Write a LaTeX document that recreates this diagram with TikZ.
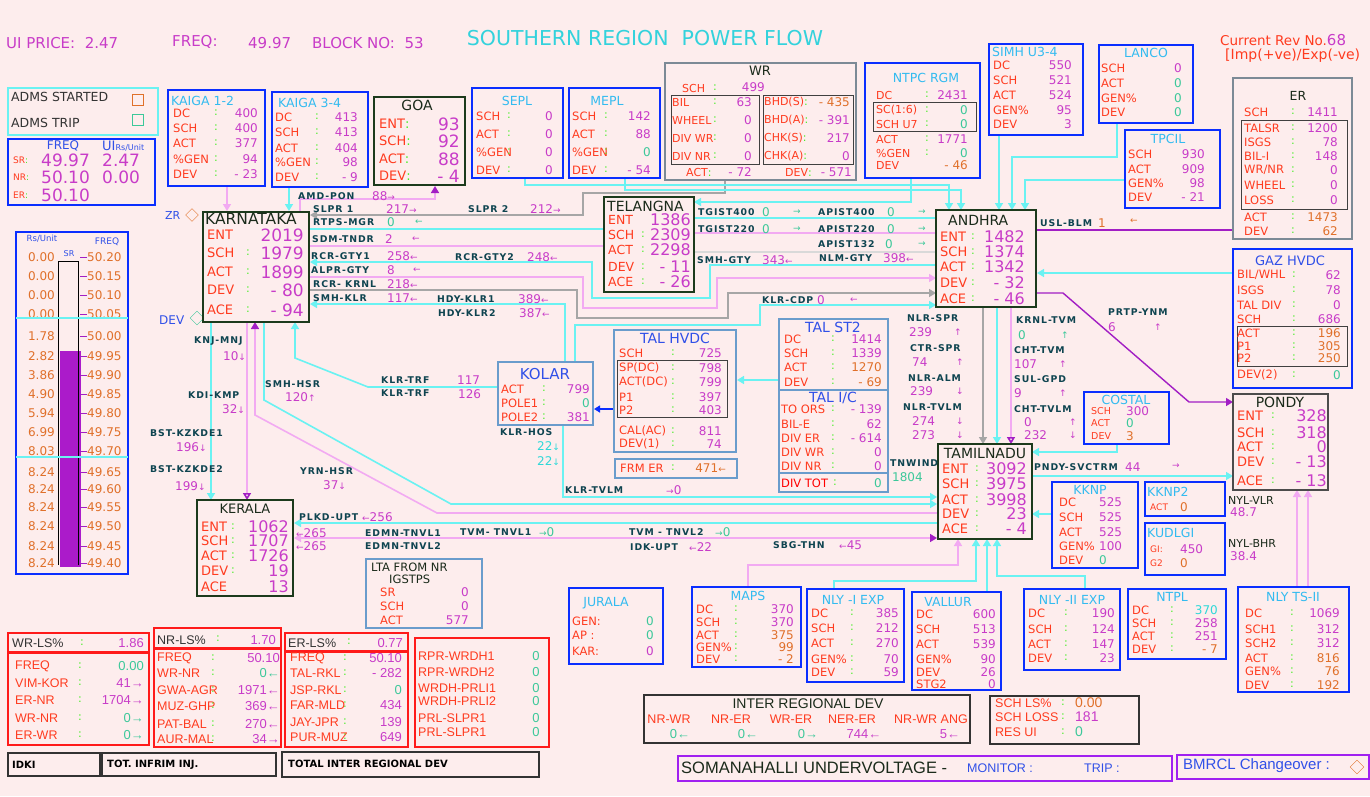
\documentclass[tikz,border=0pt]{standalone}
\usepackage{fontspec}
\setmainfont{DejaVu Sans}
\newfontfamily\narf{Liberation Sans}
\newfontfamily\flowf[LetterSpace=10]{DejaVu Sans}
\usetikzlibrary{arrows.meta,fit,shapes.geometric}
\definecolor{bgpink}{HTML}{FDEDED}
\definecolor{lblred}{HTML}{FF3B1F}
\definecolor{valmag}{HTML}{C83CC8}
\definecolor{valteal}{HTML}{3CC89A}
\definecolor{valorg}{HTML}{E0702A}
\definecolor{colgrn}{HTML}{44EE22}
\definecolor{ttlcyan}{HTML}{33BBF0}
\definecolor{boxblue}{HTML}{0A2EFF}
\definecolor{boxgray}{HTML}{7C8A96}
\definecolor{boxdark}{HTML}{1C3A1C}
\definecolor{steel}{HTML}{6A9CCC}
\definecolor{lncyan}{HTML}{6AF2F2}
\definecolor{lnpink}{HTML}{F2AAF2}
\definecolor{lngray}{HTML}{A6A6A6}
\definecolor{lnpurp}{HTML}{A21EC4}
\definecolor{flowtxt}{HTML}{0E4450}
\definecolor{hdcyan}{HTML}{33D2DC}
\definecolor{titleblue}{HTML}{3050E8}
\definecolor{redbox}{HTML}{FF1A1A}
\definecolor{darktxt}{HTML}{1A2A1A}
\definecolor{cyantxt}{HTML}{2ED8D8}
\definecolor{violetbox}{HTML}{A020F0}
\newcommand\fsz[1]{\fontsize{#1}{#1}\selectfont}
\newcommand\cgz{\color{valteal}}
\newcommand\cog{\color{valorg}}
\newcommand\cmg{\color{valmag}}
\begin{document}
\begin{tikzpicture}[x=1pt, y=-1pt,
  lbl/.style={anchor=west, inner sep=0pt, text=lblred, font=\fsz{11.5}},
  val/.style={anchor=east, inner sep=0pt, text=valmag, font=\fsz{12}},
  cln/.style={inner sep=0pt, text=colgrn, font=\fsz{11}},
  ttl/.style={inner sep=0pt, text=ttlcyan, font=\fsz{12.5}},
  bbox/.style={draw=boxblue, line width=1.8pt, inner sep=0pt},
  gbox/.style={draw=boxgray, line width=1.8pt, inner sep=0pt},
  sbox/.style={draw=steel, line width=1.8pt, inner sep=0pt},
  kbox/.style={draw=black!75, line width=1pt, inner sep=0pt},
  stbox/.style={draw=boxdark, line width=1.8pt, inner sep=0pt},
  rbox/.style={draw=redbox, line width=1.6pt, inner sep=0pt},
  stname/.style={inner sep=0pt, text=darktxt, font=\fsz{14}},
  stlbl/.style={lbl, font=\fsz{13}},
  stval/.style={val, font=\fsz{16}},
  flow/.style={anchor=west, inner sep=0pt, text=flowtxt, font=\flowf\bfseries\fsz{9.3}},
  fval/.style={anchor=west, inner sep=0pt, text=valmag, font=\fsz{12}},
  nlbl/.style={anchor=west, inner sep=0pt, text=lblred, font=\narf\fsz{12.5}},
  nval/.style={anchor=east, inner sep=0pt, text=valmag, font=\narf\fsz{13}},
  barnum/.style={inner sep=0pt, text=valorg, font=\fsz{12}},
  cy/.style={draw=lncyan, line width=1.6pt},
  pk/.style={draw=lnpink, line width=1.6pt},
  gy/.style={draw=lngray, line width=1.6pt},
  pp/.style={draw=lnpurp, line width=1.4pt},
  arr/.style={-{Triangle[length=7pt,width=8pt]}},
  parr/.style={-{Triangle[length=7pt,width=8pt,color=lnpurp]}},
  oarr/.style={-{Triangle[open,length=7pt,width=8pt,color=lnpurp]}}]
\fill[bgpink] (0,0) rectangle (1370,796);
\useasboundingbox (0,0) rectangle (1370,796);

% header line
\node[anchor=west, inner sep=0pt, text=valmag, font=\fsz{15}] (uiprice) at (6,43) {UI PRICE:\ \ 2.47};
\node[anchor=west, inner sep=0pt, text=valmag, font=\fsz{15}] (freqtop) at (172,42) {FREQ:};
\node[anchor=west, inner sep=0pt, text=valmag, font=\fsz{15}] (freqval) at (248,43) {49.97};
\node[anchor=west, inner sep=0pt, text=valmag, font=\fsz{15}] (blockno) at (312,43) {BLOCK NO:\ \ 53};
\node[inner sep=0pt, text=hdcyan, font=\fsz{20.5}] (title) at (645,38) {SOUTHERN REGION\ \ POWER FLOW};
\node[anchor=west, inner sep=0pt, text=lblred, font=\fsz{13.5}] (revno) at (1220,40) {Current Rev No.{\cmg\fsz{15}68}};
\node[anchor=west, inner sep=0pt, text=lblred, font=\fsz{14}] (impexp) at (1225,56) {[Imp(+ve)/Exp(-ve)};

% connectors
\draw[pk, arr] (227,186) -- (227,211);
\draw[cy, arr] (289,187) -- (289,211);
\draw[pk, parr] (300,211) -- (300,199) -- (435,199) -- (435,186);
\draw[gy, arr] (725,180) -- (725,193) -- (583,193) -- (583,215) -- (310,215);
\draw[cy] (310,229) -- (604,229);
\draw[pk] (310,246) -- (604,246);
\draw[cy, arr] (936,265) -- (710,265) -- (710,298) -- (592,298) -- (592,262) -- (310,262);
\draw[pk, arr] (310,277) -- (583,277) -- (583,308) -- (717,308) -- (717,278) -- (936,278);
\draw[gy, arr] (310,290) -- (577,290) -- (577,318) -- (728,318) -- (728,293) -- (936,293);
\draw[cy, arr] (565,362) -- (565,304) -- (310,304);
\draw[cy, arr] (575,362) -- (575,325) -- (760,325) -- (760,305) -- (936,305);
\draw[cy, arr] (911,178) -- (911,202) -- (694,202);
\draw[cy, arr] (525,178) -- (525,185) -- (949,185) -- (949,210);
\draw[cy, arr] (625,178) -- (625,190) -- (961,190) -- (961,210);
\draw[cy, arr] (999,135) -- (999,210);
\draw[cy, arr] (1117,123) -- (1117,157) -- (1012,157) -- (1012,210);
\draw[cy, arr] (1125,180) -- (1025,180) -- (1025,210);
\draw[pp] (1233,230) -- (1036,230);
\draw[cy] (694,218) -- (936,218);
\draw[pk] (694,233) -- (936,233);
\draw[draw=black!15, line width=1.2pt] (694,252) -- (936,252);
\draw[cy, arr] (1233,273) -- (1037,273);
\draw[pp, parr] (1036,293) -- (1063,293) -- (1189,402) -- (1233,402);
\draw[gy, arr] (983,307) -- (983,444);
\draw[cy, arr] (997,307) -- (997,444);
\draw[pk, oarr] (1011,307) -- (1011,444);
\draw[cy, arr] (1117,444) -- (1117,452) -- (1032,452);
\draw[cy, arr] (1032,476) -- (1233,476);
\draw[cy, arr] (1052,514) -- (1032,514);
\draw[cy, arr] (779,380) -- (737,380);
\draw[draw=boxblue, line width=1.6pt, -{Triangle[length=6pt,width=7pt]}] (614,409) -- (594,409);
\draw[cy, arr] (498,387) -- (368,387) -- (295,358) -- (295,322);
\draw[cy, arr] (563,425) -- (563,497) -- (937,497);
\draw[cy, arr] (264,322) -- (264,400) -- (451,504) -- (937,504);
\draw[pk, parr] (937,513) -- (437,513) -- (255,415) -- (255,322);
\draw[cy, arr] (211,322) -- (211,500);
\draw[pk, oarr] (247,322) -- (247,500);
\draw[cy, arr] (937,523) -- (294,523);
\draw[pk, {Triangle[length=7pt,width=8pt]}-{Triangle[length=7pt,width=8pt,color=lnpurp]}] (294,538) -- (937,538);
\draw[pk, arr] (748,588) -- (748,565) -- (958,565) -- (958,539);
\draw[cy, arr] (834,589) -- (834,581) -- (976,581) -- (976,539);
\draw[cy, arr] (987,592) -- (987,539);
\draw[cy, arr] (1085,589) -- (1085,576) -- (997,576) -- (997,539);
\draw[pk, arr] (1297,588) -- (1297,490);
\draw[pk, arr] (1308,588) -- (1308,490);

% ADMS and frequency boxes
\node[draw=lncyan, line width=1.8pt, inner sep=0pt, fit={(8,88) (158,135)}] (adms) {};
\node[anchor=west, inner sep=0pt, text=black!80, font=\fsz{12.5}] (admsst) at (11,97) {ADMS STARTED};
\node[draw=valorg, line width=1.1pt, minimum size=11pt, inner sep=0pt] (admssq) at (138,100) {};
\node[anchor=west, inner sep=0pt, text=black!80, font=\fsz{12.5}] (admstr) at (11,123) {ADMS TRIP};
\node[draw=valteal, line width=1.1pt, minimum size=11pt, inner sep=0pt] (admstq) at (138,120) {};
\node[bbox, fit={(8,139) (155,205)}] (freqbox) {};
\node[inner sep=0pt, text=titleblue, font=\fsz{12}] (fb-fq) at (63,146) {FREQ};
\node[anchor=west, inner sep=0pt, text=titleblue, font=\fsz{13}] (fb-ui) at (102,146) {UI{\fsz{8}Rs/Unit}};
\foreach \r/\a/\b/\y [count=\i] in {SR/49.97/2.47/160, NR/50.10/0.00/177, ER/50.10//195}
 {\node[anchor=west, inner sep=0pt, text=lblred, font=\fsz{9}] (fb-r\i) at (13,\y) {\r{\color{colgrn}:}};
  \node[anchor=west, inner sep=0pt, text=valmag, font=\fsz{17}] (fb-a\i) at (41,\y) {\a};
  \node[anchor=west, inner sep=0pt, text=valmag, font=\fsz{17}] (fb-b\i) at (102,\y) {\b};}

% frequency bar
\node[bbox, fit={(16,232) (128,574)}] (sbar) {};
\node[inner sep=0pt, text=titleblue, font=\fsz{8.5}] (sbar-rs) at (42,239) {Rs/Unit};
\node[inner sep=0pt, text=titleblue, font=\fsz{9}] (sbar-fq) at (107,242) {FREQ};
\node[inner sep=0pt, text=titleblue, font=\fsz{8}] (sbar-sr) at (69,254) {SR};
\fill[lnpurp!90!magenta] (60,351) rectangle (81,567);
\draw[black, line width=0.8pt] (58,565) -- (58,261) -- (78,261) -- (78,565);
\foreach \r/\f/\y [count=\i] in {0.00/50.20/257, 0.00/50.15/276, 0.00/50.10/295, 0.00/50.05/314, 1.78/50.00/336, 2.82/49.95/356, 3.86/49.90/375, 4.90/49.85/394, 5.94/49.80/413, 6.99/49.75/432, 8.03/49.70/451, 8.24/49.65/472, 8.24/49.60/489, 8.24/49.55/507, 8.24/49.50/526, 8.24/49.45/546, 8.24/49.40/563}
 {\node[barnum, anchor=east] (sbar-r\i) at (55,\y) {\r};
  \node[barnum, anchor=west] (sbar-f\i) at (87,\y) {\f};
  \draw[lnpurp, line width=0.8pt] (80,\y) -- (87,\y);}
\draw[lncyan, line width=1.6pt] (16,318) -- (128,318) (16,457) -- (128,457);
\node[anchor=west, inner sep=0pt, text=titleblue, font=\fsz{11}] (zr) at (165,215) {ZR};
\node[diamond, draw=valorg, minimum size=13pt, inner sep=0pt] (zrd) at (192,215) {};
\node[anchor=west, inner sep=0pt, text=titleblue, font=\fsz{12}] (devd-t) at (159,320) {DEV};
\node[diamond, draw=valteal, minimum size=14pt, inner sep=0pt] (devd) at (197,318) {};

% top generator panels
\node[bbox, fit={(168,90) (265,186)}] (kaigaa) {};
\node[ttl, anchor=west] (kaigaa-t) at (171,101) {KAIGA\ 1-2};
\foreach \l/\v/\y [count=\i] in {DC/400/113, SCH/400/128, ACT/377/143, \%GEN/94/159, DEV/- 23/174}
 {\node[lbl] (kaigaa-l\i) at (173,\y) {\l}; \node[cln] (kaigaa-c\i) at (216,\y) {:}; \node[val] (kaigaa-v\i) at (258,\y) {\v};}
\node[bbox, fit={(272,92) (368,187)}] (kaigab) {};
\node[ttl, anchor=west] (kaigab-t) at (278,103) {KAIGA\ 3-4};
\foreach \l/\v/\y [count=\i] in {DC/413/117, SCH/413/132, ACT/404/148, \%GEN/98/162, DEV/- 9/177}
 {\node[lbl] (kaigab-l\i) at (275,\y) {\l}; \node[cln] (kaigab-c\i) at (317,\y) {:}; \node[val] (kaigab-v\i) at (358,\y) {\v};}
\node[stbox, fit={(374,97) (465,185)}] (goa) {};
\node[stname] (goa-t) at (417,105) {GOA};
\foreach \l/\v/\y [count=\i] in {ENT/93/124, SCH/92/141, ACT/88/159, DEV/- 4/176}
 {\node[stlbl] (goa-l\i) at (379,\y) {\l{\color{colgrn}:}}; \node[val, font=\fsz{17}] (goa-v\i) at (460,\y) {\v};}
\node[bbox, fit={(472,88) (563,178)}] (sepl) {};
\node[ttl] (sepl-t) at (517,101) {SEPL};
\foreach \l/\v/\y [count=\i] in {SCH/0/116, ACT/0/134, \%GEN/0/152, DEV/0/170}
 {\node[lbl] (sepl-l\i) at (476,\y) {\l}; \node[cln] (sepl-c\i) at (509,\y) {:}; \node[val] (sepl-v\i) at (553,\y) {\v};}
\node[bbox, fit={(569,88) (660,178)}] (mepl) {};
\node[ttl] (mepl-t) at (607,101) {MEPL};
\foreach \l/\v/\y [count=\i] in {SCH/142/116, ACT/88/134, \%GEN/{\cgz 0}/152, DEV/- 54/170}
 {\node[lbl] (mepl-l\i) at (572,\y) {\l}; \node[cln] (mepl-c\i) at (606,\y) {:}; \node[val] (mepl-v\i) at (651,\y) {\v};}

% WR
\node[gbox, fit={(665,63) (856,180)}] (wr) {};
\node[stname, font=\fsz{13}] (wr-t) at (760,71) {WR};
\node[lbl, font=\fsz{11}] (wr-sch) at (682,88) {SCH}; \node[cln] (wr-sc) at (715,88) {:}; \node[val] (wr-sv) at (765,87) {499};
\node[kbox, fit={(671,95) (759,164)}] (wrl) {};
\node[kbox, fit={(763,95) (853,164)}] (wrr) {};
\foreach \l/\v/\y [count=\i] in {BIL/63/102, WHEEL/0/120, DIV WR/0/138, DIV NR/0/156}
 {\node[lbl, font=\fsz{11}] (wrl-l\i) at (672,\y) {\l}; \node[cln] (wrl-c\i) at (715,\y) {:}; \node[val] (wrl-v\i) at (752,\y) {\v};}
\foreach \l/\v/\y [count=\i] in {BHD(S)/{\cog - 435}/102, BHD(A)/- 391/120, CHK(S)/217/138, CHK(A)/0/156}
 {\node[lbl, font=\fsz{11}] (wrr-l\i) at (764,\y) {\l\textcolor{colgrn}{:}}; \node[val] (wrr-v\i) at (850,\y) {\v};}
\node[lbl, font=\fsz{11}] (wr-act) at (686,172) {ACT\textcolor{colgrn}{:}}; \node[val] (wr-av) at (752,172) {- 72};
\node[lbl, font=\fsz{11}] (wr-dev) at (785,172) {DEV\textcolor{colgrn}{:}}; \node[val] (wr-dv) at (852,172) {- 571};

% NTPC RGM
\node[bbox, fit={(865,63) (980,178)}] (ntpc) {};
\node[ttl] (ntpc-t) at (926,78) {NTPC RGM};
\node[kbox, fit={(873,102) (976,131)}] (ntpcin) {};
\foreach \l/\v/\y [count=\i] in {DC/2431/95, SC(1:6)/{\cgz 0}/110, SCH U7/{\cgz 0}/124, ACT/1771/139, \%GEN/{\cgz 0}/153}
 {\node[lbl, font=\fsz{11}] (ntpc-l\i) at (876,\y) {\l}; \node[cln] (ntpc-c\i) at (927,\y) {:}; \node[val] (ntpc-v\i) at (968,\y) {\v};}
\node[lbl, font=\fsz{11}] (ntpc-l6) at (876,165) {DEV}; \node[val] (ntpc-v6) at (968,165) {\cog - 46};

% SIMH, LANCO, TPCIL
\node[bbox, fit={(989,44) (1083,135)}] (simh) {};
\node[ttl, anchor=west] (simh-t) at (992,52) {SIMH U3-4};
\foreach \l/\v/\y [count=\i] in {DC/550/65, SCH/521/80, ACT/524/95, GEN\%/95/110, DEV/3/124}
 {\node[lbl] (simh-l\i) at (993,\y) {\l}; \node[val] (simh-v\i) at (1072,\y) {\v};}
\node[bbox, fit={(1099,45) (1193,123)}] (lanco) {};
\node[ttl] (lanco-t) at (1146,53) {LANCO};
\foreach \l/\v/\y [count=\i] in {SCH/0/68, ACT/{\cgz 0}/83, GEN\%/{\cgz 0}/98, DEV/{\cgz 0}/112}
 {\node[lbl] (lanco-l\i) at (1101,\y) {\l}; \node[val] (lanco-v\i) at (1182,\y) {\v};}
\node[bbox, fit={(1125,130) (1220,208)}] (tpcil) {};
\node[ttl] (tpcil-t) at (1168,139) {TPCIL};
\foreach \l/\v/\y [count=\i] in {SCH/930/154, ACT/909/169, GEN\%/98/183, DEV/- 21/197}
 {\node[lbl] (tpcil-l\i) at (1128,\y) {\l}; \node[val] (tpcil-v\i) at (1205,\y) {\v};}

% ER
\node[gbox, fit={(1233,78) (1352,239)}] (er) {};
\node[stname, font=\fsz{12.5}] (er-t) at (1298,96) {ER};
\node[kbox, fit={(1241,120) (1347,209)}] (erin) {};
\foreach \l/\v/\y [count=\i] in {SCH/1411/112, TALSR/1200/128, ISGS/78/142, BIL-I/148/156, {WR/NR}/0/170, WHEEL/0/185, LOSS/0/200, ACT/{\cog 1473}/217, DEV/{\cog 62}/231}
 {\node[lbl] (er-l\i) at (1244,\y) {\l}; \node[cln] (er-c\i) at (1293,\y) {:}; \node[val] (er-v\i) at (1338,\y) {\v};}

% GAZ HVDC
\node[bbox, fit={(1233,249) (1352,388)}] (gaz) {};
\node[inner sep=0pt, text=titleblue, font=\fsz{13}] (gaz-t) at (1290,261) {GAZ HVDC};
\node[kbox, fit={(1237,326) (1347,366)}] (gazin) {};
\foreach \l/\v/\y [count=\i] in {{BIL/WHL}/62/275, ISGS/78/290, TAL DIV/0/305, SCH/686/319, ACT/{\cog 196}/333, P1/{\cog 305}/346, P2/{\cog 250}/358, DEV(2)/{\cgz 0}/375}
 {\node[lbl] (gaz-l\i) at (1237,\y) {\l}; \node[cln] (gaz-c\i) at (1294,\y) {:}; \node[val] (gaz-v\i) at (1341,\y) {\v};}

% state boxes
\node[stbox, fit={(203,212) (309,322)}] (kar) {};
\node[stname, anchor=west, font=\fsz{15.5}] (kar-t) at (205,219) {KARNATAKA};
\foreach \l/\c/\v/\y [count=\i] in {ENT//2019/235, SCH/:/1979/253, ACT/:/1899/272, DEV/:/- 80/290, ACE/:/- 94/310}
 {\node[stlbl] (kar-l\i) at (207,\y) {\l}; \node[cln] (kar-c\i) at (248,\y) {\c}; \node[stval, font=\fsz{17}] (kar-v\i) at (304,\y) {\v};}
\node[stbox, fit={(604,197) (694,292)}] (tel) {};
\node[stname, anchor=west] (tel-t) at (607,206) {TELANGNA};
\foreach \l/\c/\v/\y [count=\i] in {ENT//1386/220, SCH/:/2309/235, ACT/:/2298/250, DEV/:/- 11/267, ACE/:/- 26/282}
 {\node[stlbl, font=\fsz{12.5}] (tel-l\i) at (608,\y) {\l}; \node[cln] (tel-c\i) at (643,\y) {\c}; \node[stval] (tel-v\i) at (691,\y) {\v};}
\node[stbox, fit={(936,210) (1036,307)}] (and) {};
\node[stname, anchor=west] (and-t) at (948,220) {ANDHRA};
\foreach \l/\v/\y [count=\i] in {ENT/1482/237, SCH/1374/252, ACT/1342/267, DEV/- 32/283, ACE/- 46/299}
 {\node[stlbl] (and-l\i) at (940,\y) {\l}; \node[cln] (and-c\i) at (973,\y) {:}; \node[stval] (and-v\i) at (1025,\y) {\v};}
\node[stbox, fit={(938,444) (1032,539)}] (tn) {};
\node[stname] (tn-t) at (985,453) {TAMILNADU};
\foreach \l/\v/\y [count=\i] in {ENT/3092/469, SCH/3975/484, ACT/3998/500, DEV/23/514, ACE/- 4/529}
 {\node[stlbl] (tn-l\i) at (942,\y) {\l}; \node[cln] (tn-c\i) at (977,\y) {:}; \node[stval] (tn-v\i) at (1027,\y) {\v};}
\node[stbox, fit={(197,500) (293,596)}] (ker) {};
\node[stname, font=\fsz{13}] (ker-t) at (245,509) {KERALA};
\foreach \l/\c/\v/\y [count=\i] in {ENT/:/1062/527, SCH/:/1707/541, ACT/:/1726/556, DEV/:/19/571, ACE//13/587}
 {\node[stlbl] (ker-l\i) at (201,\y) {\l}; \node[cln] (ker-c\i) at (233,\y) {\c}; \node[stval] (ker-v\i) at (289,\y) {\v};}
\node[draw=black!70, line width=1.4pt, inner sep=0pt, fit={(1233,394) (1328,490)}] (pondy) {};
\node[stname] (pondy-t) at (1280,402) {PONDY};
\foreach \l/\v/\y [count=\i] in {ENT/328/416, SCH/318/433, ACT/0/447, DEV/- 13/462, ACE/- 13/481}
 {\node[stlbl] (pondy-l\i) at (1237,\y) {\l}; \node[cln] (pondy-c\i) at (1273,\y) {:}; \node[stval] (pondy-v\i) at (1327,\y) {\v};}

% KOLAR and Talcher
\node[sbox, fit={(498,362) (593,425)}] (kolar) {};
\node[inner sep=0pt, text=titleblue, font=\fsz{15}] (kolar-t) at (545,374) {KOLAR};
\foreach \l/\v/\y [count=\i] in {ACT/799/389, POLE1/{\cgz 0}/403, POLE2/381/417}
 {\node[lbl] (kolar-l\i) at (501,\y) {\l}; \node[cln] (kolar-c\i) at (544,\y) {:}; \node[val] (kolar-v\i) at (590,\y) {\v};}
\node[sbox, fit={(614,330) (736,452)}] (talhv) {};
\node[inner sep=0pt, text=titleblue, font=\fsz{14}] (talhv-t) at (675,338) {TAL HVDC};
\node[kbox, fit={(617,360) (727,417)}] (talhvin) {};
\foreach \l/\v/\y [count=\i] in {SCH/725/353, SP(DC)/798/368, ACT(DC)/799/382, P1/397/397, P2/403/410, CAL(AC)/811/431, DEV(1)/74/444}
 {\node[lbl] (talhv-l\i) at (619,\y) {\l}; \node[cln] (talhv-c\i) at (673,\y) {:}; \node[val] (talhv-v\i) at (722,\y) {\v};}
\node[sbox, fit={(615,459) (737,478)}] (frmer) {};
\node[lbl] (frmer-l) at (620,468) {FRM ER}; \node[cln] (frmer-c) at (673,468) {:}; \node[val] (frmer-v) at (726,468) {\cog 471{\fsz{9}←}};
\node[sbox, fit={(779,319) (888,390)}] (talst) {};
\node[inner sep=0pt, text=titleblue, font=\fsz{14}] (talst-t) at (833,327) {TAL ST2};
\foreach \l/\v/\y [count=\i] in {DC/1414/339, SCH/1339/353, ACT/{\cog 1270}/367, DEV/{\cog - 69}/382}
 {\node[lbl] (talst-l\i) at (784,\y) {\l}; \node[cln] (talst-c\i) at (833,\y) {:}; \node[val] (talst-v\i) at (882,\y) {\v};}
\node[sbox, fit={(779,390) (888,473)}] (talic) {};
\node[inner sep=0pt, text=titleblue, font=\fsz{14}] (talic-t) at (833,398) {TAL I/C};
\foreach \l/\v/\y [count=\i] in {TO ORS/- 139/409, BIL-E/62/424, DIV ER/- 614/438, DIV WR/0/452, DIV NR/0/466}
 {\node[lbl] (talic-l\i) at (781,\y) {\l}; \node[cln] (talic-c\i) at (833,\y) {:}; \node[val] (talic-v\i) at (882,\y) {\v};}
\node[sbox, fit={(779,473) (888,492)}] (divtot) {};
\node[lbl, text=red] (divtot-l) at (781,483) {DIV TOT}; \node[cln] (divtot-c) at (835,483) {:}; \node[val] (divtot-v) at (882,483) {\cgz 0};

% small panels near Tamilnadu
\node[bbox, fit={(1084,392) (1169,444)}] (costal) {};
\node[ttl] (costal-t) at (1126,400) {COSTAL};
\foreach \l/\v/\y [count=\i] in {SCH/300/411, ACT/{\cgz 0}/423, DEV/{\cog 3}/436}
 {\node[lbl, font=\fsz{9.5}] (costal-l\i) at (1091,\y) {\l}; \node[val, anchor=west] (costal-v\i) at (1126,\y) {\v};}
\node[bbox, fit={(1052,482) (1138,568)}] (kknp) {};
\node[ttl] (kknp-t) at (1090,490) {KKNP};
\foreach \l/\v/\y [count=\i] in {DC/525/502, SCH/525/517, ACT/525/532, GEN\%/100/546, DEV/{\cgz 0}/560}
 {\node[lbl] (kknp-l\i) at (1059,\y) {\l}; \node[val, anchor=west] (kknp-v\i) at (1099,\y) {\v};}
\node[bbox, fit={(1145,482) (1225,516)}] (kknpb) {};
\node[ttl, anchor=west] (kknpb-t) at (1147,492) {KKNP2};
\node[lbl, font=\fsz{9}] (kknpb-l) at (1150,507) {ACT}; \node[val, anchor=west] (kknpb-v) at (1180,507) {\cog 0};
\node[bbox, fit={(1145,523) (1225,575)}] (kudlgi) {};
\node[ttl, anchor=west] (kudlgi-t) at (1147,533) {KUDLGI};
\node[lbl, font=\fsz{9}] (kudlgi-l1) at (1150,549) {GI:}; \node[val, anchor=west] (kudlgi-v1) at (1180,549) {450};
\node[lbl, font=\fsz{9}] (kudlgi-l2) at (1150,563) {G2}; \node[val, anchor=west] (kudlgi-v2) at (1180,563) {\cog 0};
\node[anchor=west, inner sep=0pt, text=darktxt, font=\fsz{11}] (nylvlr) at (1228,500) {NYL-VLR};
\node[fval] (nylvlr-v) at (1230,512) {48.7};
\node[anchor=west, inner sep=0pt, text=darktxt, font=\fsz{11}] (nylbhr) at (1228,543) {NYL-BHR};
\node[fval] (nylbhr-v) at (1230,556) {38.4};

% LTA and bottom generators
\node[sbox, fit={(366,559) (482,628)}] (lta) {};
\node[anchor=west, inner sep=0pt, text=darktxt, font=\fsz{11.5}] (lta-t1) at (371,567) {LTA FROM NR};
\node[anchor=west, inner sep=0pt, text=darktxt, font=\fsz{11.5}] (lta-t2) at (389,579) {IGSTPS};
\foreach \l/\v/\y [count=\i] in {SR/0/592, SCH/0/606, ACT/577/620}
 {\node[lbl] (lta-l\i) at (380,\y) {\l}; \node[val] (lta-v\i) at (469,\y) {\v};}
\node[bbox, fit={(569,588) (663,664)}] (jurala) {};
\node[ttl] (jurala-t) at (606,603) {JURALA};
\foreach \l/\v/\y [count=\i] in {GEN:/{\cgz 0}/621, AP :/{\cgz 0}/635, KAR:/0/651}
 {\node[lbl] (jurala-l\i) at (572,\y) {\l}; \node[val] (jurala-v\i) at (654,\y) {\v};}
\node[bbox, fit={(692,587) (801,667)}] (maps) {};
\node[ttl] (maps-t) at (748,596) {MAPS};
\foreach \l/\v/\y [count=\i] in {DC/370/609, SCH/370/622, ACT/{\cog 375}/635, GEN\%/{\cog 99}/647, DEV/{\cog - 2}/659}
 {\node[lbl] (maps-l\i) at (696,\y) {\l}; \node[cln] (maps-c\i) at (736,\y) {:}; \node[val] (maps-v\i) at (794,\y) {\v};}
\node[bbox, fit={(807,589) (904,682)}] (nlya) {};
\node[ttl] (nlya-t) at (853,600) {NLY -I EXP};
\foreach \l/\v/\y [count=\i] in {DC/385/613, SCH/212/628, ACT/270/643, GEN\%/70/659, DEV/59/672}
 {\node[lbl] (nlya-l\i) at (811,\y) {\l}; \node[cln] (nlya-c\i) at (852,\y) {:}; \node[val] (nlya-v\i) at (899,\y) {\v};}
\node[bbox, fit={(912,592) (1001,690)}] (vallur) {};
\node[ttl] (vallur-t) at (948,602) {VALLUR};
\foreach \l/\v/\y [count=\i] in {DC/600/614, SCH/513/629, ACT/539/644, GEN\%/90/659, DEV/26/672, STG2/0/684}
 {\node[lbl] (vallur-l\i) at (916,\y) {\l}; \node[val] (vallur-v\i) at (996,\y) {\v};}
\node[bbox, fit={(1024,589) (1120,670)}] (nlyb) {};
\node[ttl] (nlyb-t) at (1072,600) {NLY -II EXP};
\foreach \l/\v/\y [count=\i] in {DC/190/613, SCH/124/629, ACT/147/644, DEV/23/658}
 {\node[lbl] (nlyb-l\i) at (1028,\y) {\l}; \node[cln] (nlyb-c\i) at (1066,\y) {:}; \node[val] (nlyb-v\i) at (1115,\y) {\v};}
\node[bbox, fit={(1128,589) (1226,659)}] (ntpl) {};
\node[ttl] (ntpl-t) at (1172,597) {NTPL};
\foreach \l/\v/\y [count=\i] in {DC/{\color{cyantxt}370}/610, SCH/258/623, ACT/251/636, DEV/{\cog - 7}/649}
 {\node[lbl] (ntpl-l\i) at (1132,\y) {\l}; \node[cln] (ntpl-c\i) at (1172,\y) {:}; \node[val] (ntpl-v\i) at (1218,\y) {\v};}
\node[bbox, fit={(1238,587) (1349,692)}] (nlyts) {};
\node[ttl] (nlyts-t) at (1293,597) {NLY TS-II};
\foreach \l/\v/\y [count=\i] in {DC/1069/613, SCH1/312/629, SCH2/312/643, ACT/{\cog 816}/658, GEN\%/{\cog 76}/671, DEV/{\cog 192}/685}
 {\node[lbl] (nlyts-l\i) at (1245,\y) {\l}; \node[cln] (nlyts-c\i) at (1292,\y) {:}; \node[val] (nlyts-v\i) at (1340,\y) {\v};}

% line flow labels
\foreach \t/\x/\y [count=\i] in {AMD-PON/298/196, SLPR 1/313/209, RTPS-MGR/313/222, SDM-TNDR/312/239, RCR-GTY1/311/256, ALPR-GTY/311/270, RCR- KRNL/313/284, SMH-KLR/313/298, SLPR 2/468/209, RCR-GTY2/455/257, HDY-KLR1/437/299, HDY-KLR2/438/313, KNJ-MNJ/194/341, KDI-KMP/188/395, BST-KZKDE1/150/433, BST-KZKDE2/150/469, SMH-HSR/265/384, YRN-HSR/300/471, KLR-TRF/381/380, KLR-TRF/381/393, KLR-HOS/500/432, KLR-TVLM/565/490, PLKD-UPT/299/517, EDMN-TNVL1/365/533, EDMN-TNVL2/365/546, TVM- TNVL1/460/532, TVM - TNVL2/629/532, IDK-UPT/630/547, SBG-THN/773/545, TGIST400/698/212, TGIST220/698/229, APIST400/818/212, APIST220/818/229, APIST132/818/244, SMH-GTY/697/260, NLM-GTY/819/258, KLR-CDP/762/300, USL-BLM/1040/223, NLR-SPR/907/318, CTR-SPR/910/348, NLR-ALM/908/378, NLR-TVLM/903/407, KRNL-TVM/1016/320, CHT-TVM/1014/350, SUL-GPD/1014/379, CHT-TVLM/1014/409, PRTP-YNM/1108/312, TNWIND/890/463, PNDY-SVCTRM/1034/467}
 {\node[flow] (fl\i) at (\x,\y) {\t};}
\foreach \t/\x/\y [count=\i] in {{88{\fsz{9}→}}/372/196, {217{\fsz{9}→}}/386/209, {\cgz 0}/387/222, {\cgz\fsz{9}←}/415/222, 2/385/239, {\fsz{9}←}/412/239, {258{\fsz{9}←}}/387/256, 8/387/270, {\fsz{9}←}/413/270, {218{\fsz{9}←}}/387/284, {117{\fsz{9}←}}/387/298, {212{\fsz{9}→}}/530/209, {248{\fsz{9}←}}/527/257, {389{\fsz{9}←}}/518/299, {387{\fsz{9}←}}/519/313, {10{\fsz{9}↓}}/223/356, {32{\fsz{9}↓}}/222/409, {196{\fsz{9}↓}}/176/447, {199{\fsz{9}↓}}/175/486, {120{\fsz{9}↑}}/285/397, {37{\fsz{9}↓}}/323/485, 117/457/380, 126/458/394, {\color{cyantxt}22{\fsz{9}↓}}/537/446, {\color{cyantxt}22{\fsz{9}↓}}/537/461, {{\fsz{9}→}0}/666/490, {{\fsz{9}←}256}/362/517, {{\fsz{9}←}265}/296/533, {{\fsz{9}←}265}/296/546, {\cgz{\fsz{9}→}0}/539/532, {\cgz{\fsz{9}→}0}/715/532, {{\fsz{9}←}22}/689/547, {{\fsz{9}←}45}/839/545, {\cgz 0}/762/212, {\cgz\fsz{9}→}/793/212, {\cgz 0}/762/229, {\cgz\fsz{9}→}/793/229, {\cgz 0}/887/212, {\cgz\fsz{9}→}/918/212, {\cgz 0}/887/229, {\cgz\fsz{9}→}/918/229, {\cgz 0}/885/244, {\cgz\fsz{9}→}/918/244, {343{\fsz{9}←}}/762/260, {398{\fsz{9}←}}/883/258, 0/817/300, {\fsz{9}←}/850/300, {\cog 1}/1098/223, {\cog\fsz{9}←}/1130/221, 239/909/332, {\fsz{9}↑}/954/332, 74/912/362, {\fsz{9}↑}/956/362, 239/910/391, {\fsz{9}↓}/956/391, 274/912/421, {\fsz{9}↓}/956/421, 273/912/435, {\fsz{9}↓}/956/435, {\cgz 0}/1018/335, {\cgz\fsz{9}↑}/1061/335, 107/1014/364, {\fsz{9}↑}/1059/364, 9/1014/393, {\fsz{9}↑}/1059/393, 0/1024/422, {\fsz{9}↑}/1069/422, 232/1024/435, {\fsz{9}↓}/1069/435, 6/1108/327, {\fsz{9}↑}/1154/327, {\cgz 1804}/892/477, 44/1125/467, {\fsz{9}→}/1172/466}
 {\node[fval] (fv\i) at (\x,\y) {\t};}

% inter regional boxes (bottom left)
\node[rbox, fit={(8,633) (149,652)}] (wrls) {};
\node[nlbl, text=black!80] (wrls-l) at (12,643) {WR-LS\%}; \node[cln] (wrls-c) at (82,643) {:}; \node[nval] (wrls-v) at (144,643) {1.86};
\node[rbox, fit={(8,653) (149,745)}] (wrb) {};
\foreach \l/\v/\y [count=\i] in {FREQ/{\cgz 0.00}/666, VIM-KOR/41→/683, ER-NR/1704→/700, WR-NR/{\cgz 0→}/718, ER-WR/{\cgz 0→}/735}
 {\node[nlbl] (wrb-l\i) at (15,\y) {\l}; \node[cln] (wrb-c\i) at (80,\y) {:}; \node[nval] (wrb-v\i) at (144,\y) {\v};}
\node[rbox, fit={(154,628) (281,648)}] (nrls) {};
\node[nlbl, text=black!80] (nrls-l) at (157,640) {NR-LS\%}; \node[cln] (nrls-c) at (218,639) {:}; \node[nval] (nrls-v) at (276,640) {1.70};
\node[rbox, fit={(154,649) (281,747)}] (nrb) {};
\foreach \l/\v/\y [count=\i] in {FREQ/50.10/658, WR-NR/{\cgz 0←}/673, GWA-AGR/1971←/690, MUZ-GHP/369←/706, PAT-BAL/270←/724, AUR-MAL/34→/739}
 {\node[nlbl] (nrb-l\i) at (157,\y) {\l}; \node[cln] (nrb-c\i) at (213,\y) {:}; \node[nval] (nrb-v\i) at (280,\y) {\v};}
\node[rbox, fit={(285,633) (408,651)}] (erls) {};
\node[nlbl, text=black!80] (erls-l) at (288,643) {ER-LS\%}; \node[cln] (erls-c) at (349,642) {:}; \node[nval] (erls-v) at (403,643) {0.77};
\node[rbox, fit={(285,652) (408,747)}] (erb) {};
\foreach \l/\v/\y [count=\i] in {FREQ/50.10/658, TAL-RKL/- 282/673, JSP-RKL/{\cgz 0}/690, FAR-MLD/434/705, JAY-JPR/139/722, PUR-MUZ/649/737}
 {\node[nlbl] (erb-l\i) at (290,\y) {\l}; \node[cln] (erb-c\i) at (345,\y) {:}; \node[nval] (erb-v\i) at (402,\y) {\v};}
\node[rbox, fit={(415,638) (549,747)}] (rpr) {};
\foreach \l/\y [count=\i] in {RPR-WRDH1/656, RPR-WRDH2/672, WRDH-PRLI1/688, WRDH-PRLI2/701, PRL-SLPR1/718, PRL-SLPR1/732}
 {\node[nlbl] (rpr-l\i) at (418,\y) {\l}; \node[nval, anchor=center] (rpr-v\i) at (536,\y) {\cgz 0};}
\node[draw=black!80, line width=1.6pt, inner sep=0pt, fit={(8,753) (100,776)}] (idki) {};
\node[anchor=west, inner sep=0pt, font=\fsz{10}\bfseries] (idki-t) at (12,765) {IDKI};
\node[draw=black!80, line width=1.6pt, inner sep=0pt, fit={(102,753) (276,776)}] (infrim) {};
\node[anchor=west, inner sep=0pt, font=\fsz{10}\bfseries] (infrim-t) at (107,765) {TOT. INFRIM INJ.};
\node[draw=black!80, line width=1.6pt, inner sep=0pt, fit={(282,752) (539,777)}] (totir) {};
\node[anchor=west, inner sep=0pt, font=\fsz{10}\bfseries] (totir-t) at (288,764) {TOTAL INTER REGIONAL DEV};

% inter regional dev and bottom strip
\node[draw=black!80, line width=1.8pt, inner sep=0pt, fit={(644,695) (970,743)}] (irdev) {};
\node[inner sep=0pt, text=darktxt, font=\narf\fsz{14}] (irdev-t) at (808,704) {INTER REGIONAL DEV};
\foreach \l/\v/\x/\y [count=\i] in {NR-WR/{\cgz 0←}/669/680, NR-ER/{\cgz 0←}/731/748, WR-ER/{\cgz 0→}/791/808, NER-ER/744←/852/864, NR-WR ANG/5←/931/950}
 {\node[inner sep=0pt, text=lblred, font=\narf\fsz{12.5}] (irdev-l\i) at (\x,719) {\l};
  \node[inner sep=0pt, text=valmag, font=\narf\fsz{13}] (irdev-v\i) at (\y,734) {\v};}
\node[draw=black!80, line width=1.8pt, inner sep=0pt, fit={(990,696) (1139,744)}] (schls) {};
\foreach \l/\v/\y [count=\i] in {SCH LS\%/{\cog 0.00}/703, SCH LOSS/181/717, RES UI/{\cgz 0}/732}
 {\node[nlbl] (schls-l\i) at (995,\y) {\l}; \node[cln] (schls-c\i) at (1063,\y) {:}; \node[nval, anchor=west, font=\narf\fsz{14}] (schls-v\i) at (1075,\y) {\v};}
\node[draw=violetbox, line width=1.8pt, inner sep=0pt, fit={(678,756) (1172,781)}] (soma) {};
\node[anchor=west, inner sep=0pt, text=darktxt, font=\narf\fsz{16.5}] (soma-t) at (681,768) {SOMANAHALLI UNDERVOLTAGE -};
\node[anchor=west, inner sep=0pt, text=titleblue, font=\narf\fsz{12.5}] (soma-m) at (967,768) {MONITOR :};
\node[anchor=west, inner sep=0pt, text=titleblue, font=\narf\fsz{12.5}] (soma-tr) at (1084,768) {TRIP :};
\node[draw=violetbox, line width=1.8pt, inner sep=0pt, fit={(1177,755) (1369,779)}] (bmrcl) {};
\node[anchor=west, inner sep=0pt, text=titleblue, font=\narf\fsz{15}] (bmrcl-t) at (1183,766) {BMRCL Changeover :};
\node[diamond, draw=valorg, minimum size=14pt, inner sep=0pt] (bmrcl-d) at (1357,767) {};
\end{tikzpicture}
\end{document}
